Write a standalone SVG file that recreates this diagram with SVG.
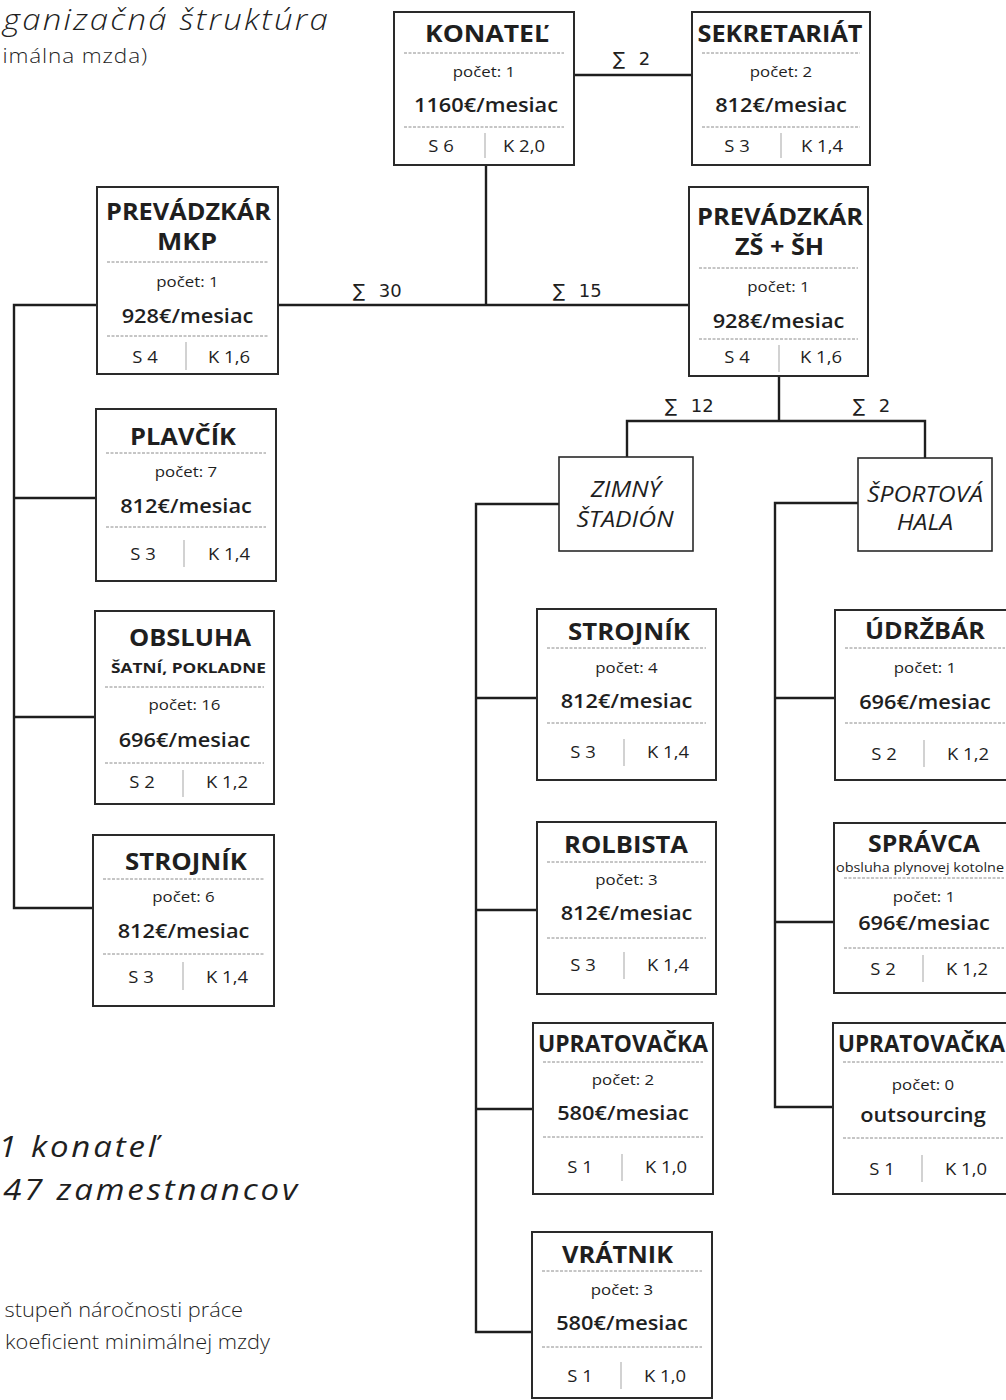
<svg xmlns="http://www.w3.org/2000/svg" width="1006" height="1400" viewBox="0 0 1006 1400">
<style>
.box{fill:#fff;stroke:#2a2a2a;stroke-width:2}
.frame{fill:#fff;stroke:#2a2a2a;stroke-width:1.6}
.sep{stroke:#8c8c8c;stroke-width:1;stroke-dasharray:3 1.5}
.dv{stroke:#b4b4b4;stroke-width:1.2}
.con{fill:none;stroke:#1e1e1e;stroke-width:2.4}
text{font-family:"Open Sans","Noto Sans","DejaVu Sans",sans-serif;fill:#1f1f1f}
.m{text-anchor:middle}
.c{text-anchor:middle;transform:scaleX(1.1);transform-box:fill-box;transform-origin:center}
.r{text-anchor:end;transform:scaleX(1.1);transform-box:fill-box;transform-origin:right}
.ti{font-size:22.5px;font-weight:750}
.ct{font-size:15.3px;font-weight:400}
.sa{font-size:19.8px;font-weight:620}
.sk{font-size:16.8px;font-weight:400}
.sub{font-size:15px;font-weight:750}
.sm{font-size:12.2px;font-weight:400}
.it{font-size:22.5px;font-style:italic;font-weight:400}
.sig{font-size:18px;font-family:"DejaVu Sans","Open Sans",sans-serif;word-spacing:8px}
.big{font-size:30px;font-style:italic;font-weight:400;letter-spacing:2.6px}
.hd{font-size:30px;font-style:italic;font-weight:300;letter-spacing:2px}
.lt{font-size:19.8px;font-weight:300}
.lt2{font-size:20.5px;font-weight:300;letter-spacing:0.8px}
</style>

<g id="connectors">
<path class="con" d="M574 75H692"/>
<path class="con" d="M486 165V305"/>
<path class="con" d="M278 305H689"/>
<path class="con" d="M97 305H14V908H93M14 498H96M14 717H95"/>
<path class="con" d="M779 376V421M627 457V421H925V458"/>
<path class="con" d="M559 504H476V1332H532M476 698H537M476 910H537M476 1109H533"/>
<path class="con" d="M858 503H775V1107H833M775 698H835M775 922H834"/>
<text class="sig" x="613" y="65">∑ 2</text>
<text class="sig" x="353" y="297">∑ 30</text>
<text class="sig" x="553" y="297">∑ 15</text>
<text class="sig" x="665" y="412">∑ 12</text>
<text class="sig" x="853" y="412">∑ 2</text>
</g>

<g id="n-konatel">
<rect class="box" x="394" y="12" width="180" height="153"/>
<text class="m ti" x="487" y="42" textLength="124" lengthAdjust="spacingAndGlyphs">KONATEĽ</text>
<line class="sep" x1="404" y1="53" x2="564" y2="53"/>
<text class="c ct" x="484" y="77">počet: 1</text>
<text class="c sa" x="486" y="112">1160€/mesiac</text>
<line class="sep" x1="404" y1="127" x2="564" y2="127"/>
<line class="dv" x1="485" y1="133" x2="485" y2="158"/>
<text class="c sk" x="441" y="152">S 6</text>
<text class="c sk" x="524" y="152">K 2,0</text>
</g>

<g id="n-sekretariat">
<rect class="box" x="692" y="12" width="178" height="153"/>
<text class="m ti" x="780" y="42" textLength="165" lengthAdjust="spacingAndGlyphs">SEKRETARIÁT</text>
<line class="sep" x1="702" y1="53" x2="860" y2="53"/>
<text class="c ct" x="781" y="77">počet: 2</text>
<text class="c sa" x="781" y="112">812€/mesiac</text>
<line class="sep" x1="702" y1="127" x2="860" y2="127"/>
<line class="dv" x1="781" y1="133" x2="781" y2="158"/>
<text class="c sk" x="737" y="152">S 3</text>
<text class="c sk" x="822" y="152">K 1,4</text>
</g>

<g id="n-prevadzkar-mkp">
<rect class="box" x="97" y="187" width="181" height="187"/>
<text class="m ti" x="188.5" y="220" textLength="165" lengthAdjust="spacingAndGlyphs">PREVÁDZKÁR</text>
<text class="m ti" x="187" y="250" textLength="60" lengthAdjust="spacingAndGlyphs">MKP</text>
<line class="sep" x1="107" y1="262" x2="268" y2="262"/>
<text class="c ct" x="187.5" y="287">počet: 1</text>
<text class="c sa" x="187.5" y="323">928€/mesiac</text>
<line class="sep" x1="107" y1="336" x2="268" y2="336"/>
<line class="dv" x1="186" y1="342" x2="186" y2="370"/>
<text class="c sk" x="145" y="363">S 4</text>
<text class="c sk" x="229" y="363">K 1,6</text>
</g>

<g id="n-prevadzkar-zssh">
<rect class="box" x="689" y="187" width="179" height="189"/>
<text class="m ti" x="780" y="225" textLength="166" lengthAdjust="spacingAndGlyphs">PREVÁDZKÁR</text>
<text class="m ti" x="779.5" y="255" textLength="89" lengthAdjust="spacingAndGlyphs">ZŠ + ŠH</text>
<line class="sep" x1="699" y1="268" x2="858" y2="268"/>
<text class="c ct" x="778.5" y="292">počet: 1</text>
<text class="c sa" x="778.5" y="328">928€/mesiac</text>
<line class="sep" x1="699" y1="339" x2="858" y2="339"/>
<line class="dv" x1="779" y1="345" x2="779" y2="372"/>
<text class="c sk" x="737" y="363">S 4</text>
<text class="c sk" x="821" y="363">K 1,6</text>
</g>

<g id="n-plavcik">
<rect class="box" x="96" y="409" width="180" height="172"/>
<text class="m ti" x="183" y="445" textLength="106" lengthAdjust="spacingAndGlyphs">PLAVČÍK</text>
<line class="sep" x1="106" y1="453" x2="266" y2="453"/>
<text class="c ct" x="186" y="477">počet: 7</text>
<text class="c sa" x="186" y="513">812€/mesiac</text>
<line class="sep" x1="106" y1="527" x2="266" y2="527"/>
<line class="dv" x1="184" y1="540" x2="184" y2="567"/>
<text class="c sk" x="143" y="560">S 3</text>
<text class="c sk" x="229" y="560">K 1,4</text>
</g>

<g id="n-obsluha">
<rect class="box" x="95" y="611" width="179" height="193"/>
<text class="m ti" x="190" y="646" textLength="122" lengthAdjust="spacingAndGlyphs">OBSLUHA</text>
<text class="m sub" x="188.5" y="673" textLength="155" lengthAdjust="spacingAndGlyphs">ŠATNÍ, POKLADNE</text>
<line class="sep" x1="105" y1="687" x2="264" y2="687"/>
<text class="c ct" x="184.5" y="710">počet: 16</text>
<text class="c sa" x="184.5" y="747">696€/mesiac</text>
<line class="sep" x1="105" y1="763" x2="264" y2="763"/>
<line class="dv" x1="183" y1="770" x2="183" y2="797"/>
<text class="c sk" x="142" y="788">S 2</text>
<text class="c sk" x="227" y="788">K 1,2</text>
</g>

<g id="n-strojnik-mkp">
<rect class="box" x="93" y="835" width="181" height="171"/>
<text class="m ti" x="186" y="870" textLength="122" lengthAdjust="spacingAndGlyphs">STROJNÍK</text>
<line class="sep" x1="103" y1="879" x2="264" y2="879"/>
<text class="c ct" x="183.5" y="902">počet: 6</text>
<text class="c sa" x="183.5" y="938">812€/mesiac</text>
<line class="sep" x1="103" y1="954" x2="264" y2="954"/>
<line class="dv" x1="183" y1="962" x2="183" y2="990"/>
<text class="c sk" x="141" y="983">S 3</text>
<text class="c sk" x="227" y="983">K 1,4</text>
</g>

<g id="n-zimny-stadion">
<rect class="frame" x="559" y="457" width="134" height="94"/>
<text class="c it" x="626" y="497">ZIMNÝ</text>
<text class="c it" x="625" y="527">ŠTADIÓN</text>
</g>

<g id="n-sportova-hala">
<rect class="frame" x="858" y="458" width="134" height="93"/>
<text class="c it" x="925" y="502">ŠPORTOVÁ</text>
<text class="c it" x="925" y="530">HALA</text>
</g>

<g id="n-strojnik-zs">
<rect class="box" x="537" y="609" width="179" height="171"/>
<text class="m ti" x="629" y="640" textLength="122" lengthAdjust="spacingAndGlyphs">STROJNÍK</text>
<line class="sep" x1="547" y1="648" x2="706" y2="648"/>
<text class="c ct" x="626.5" y="673">počet: 4</text>
<text class="c sa" x="626.5" y="708">812€/mesiac</text>
<line class="sep" x1="547" y1="723" x2="706" y2="723"/>
<line class="dv" x1="624" y1="739" x2="624" y2="766"/>
<text class="c sk" x="583" y="758">S 3</text>
<text class="c sk" x="668" y="758">K 1,4</text>
</g>

<g id="n-rolbista">
<rect class="box" x="537" y="822" width="179" height="172"/>
<text class="m ti" x="626" y="853" textLength="124" lengthAdjust="spacingAndGlyphs">ROLBISTA</text>
<line class="sep" x1="547" y1="862" x2="706" y2="862"/>
<text class="c ct" x="626.5" y="885">počet: 3</text>
<text class="c sa" x="626.5" y="920">812€/mesiac</text>
<line class="sep" x1="547" y1="938" x2="706" y2="938"/>
<line class="dv" x1="624" y1="952" x2="624" y2="979"/>
<text class="c sk" x="583" y="971">S 3</text>
<text class="c sk" x="668" y="971">K 1,4</text>
</g>

<g id="n-upratovacka-zs">
<rect class="box" x="533" y="1023" width="180" height="171"/>
<text class="m ti" x="623" y="1052" textLength="170" lengthAdjust="spacingAndGlyphs">UPRATOVAČKA</text>
<line class="sep" x1="543" y1="1062" x2="703" y2="1062"/>
<text class="c ct" x="623" y="1085">počet: 2</text>
<text class="c sa" x="623" y="1120">580€/mesiac</text>
<line class="sep" x1="543" y1="1137" x2="703" y2="1137"/>
<line class="dv" x1="622" y1="1154" x2="622" y2="1181"/>
<text class="c sk" x="580" y="1173">S 1</text>
<text class="c sk" x="666" y="1173">K 1,0</text>
</g>

<g id="n-vratnik">
<rect class="box" x="532" y="1232" width="180" height="166"/>
<text class="m ti" x="617.5" y="1263" textLength="111" lengthAdjust="spacingAndGlyphs">VRÁTNIK</text>
<line class="sep" x1="542" y1="1271" x2="702" y2="1271"/>
<text class="c ct" x="622" y="1295">počet: 3</text>
<text class="c sa" x="622" y="1330">580€/mesiac</text>
<line class="sep" x1="542" y1="1347" x2="702" y2="1347"/>
<line class="dv" x1="621" y1="1362" x2="621" y2="1389"/>
<text class="c sk" x="580" y="1382">S 1</text>
<text class="c sk" x="665" y="1382">K 1,0</text>
</g>

<g id="n-udrzbar">
<rect class="box" x="835" y="610" width="180" height="170"/>
<text class="m ti" x="925" y="639" textLength="120" lengthAdjust="spacingAndGlyphs">ÚDRŽBÁR</text>
<line class="sep" x1="845" y1="648" x2="1005" y2="648"/>
<text class="c ct" x="925" y="673">počet: 1</text>
<text class="c sa" x="925" y="709">696€/mesiac</text>
<line class="sep" x1="845" y1="723" x2="1005" y2="723"/>
<line class="dv" x1="924" y1="740" x2="924" y2="767"/>
<text class="c sk" x="884" y="760">S 2</text>
<text class="c sk" x="968" y="760">K 1,2</text>
</g>

<g id="n-spravca">
<rect class="box" x="834" y="823" width="180" height="170"/>
<text class="m ti" x="924" y="852" textLength="112" lengthAdjust="spacingAndGlyphs">SPRÁVCA</text>
<text class="m sm" x="920" y="872" textLength="168" lengthAdjust="spacingAndGlyphs">obsluha plynovej kotolne</text>
<line class="sep" x1="844" y1="878" x2="1004" y2="878"/>
<text class="c ct" x="924" y="902">počet: 1</text>
<text class="c sa" x="924" y="930">696€/mesiac</text>
<line class="sep" x1="844" y1="948" x2="1004" y2="948"/>
<line class="dv" x1="923" y1="955" x2="923" y2="982"/>
<text class="c sk" x="883" y="975">S 2</text>
<text class="c sk" x="967" y="975">K 1,2</text>
</g>

<g id="n-upratovacka-sh">
<rect class="box" x="833" y="1023" width="180" height="171"/>
<text class="m ti" x="921.5" y="1052" textLength="167" lengthAdjust="spacingAndGlyphs">UPRATOVAČKA</text>
<line class="sep" x1="843" y1="1062" x2="1003" y2="1062"/>
<text class="c ct" x="923" y="1090">počet: 0</text>
<text class="c sa" x="923" y="1122">outsourcing</text>
<line class="sep" x1="843" y1="1138" x2="1003" y2="1138"/>
<line class="dv" x1="922" y1="1155" x2="922" y2="1182"/>
<text class="c sk" x="882" y="1175">S 1</text>
<text class="c sk" x="966" y="1175">K 1,0</text>
</g>

<g id="legend">
<text class="r hd" x="330" y="30">ganizačná štruktúra</text>
<text class="r lt2" x="148" y="63">imálna mzda)</text>
<text class="r big" x="160" y="1157">1 konateľ</text>
<text class="r big" x="300" y="1200">47 zamestnancov</text>
<text class="r lt" x="243" y="1317">stupeň náročnosti práce</text>
<text class="r lt" x="270" y="1349">koeficient minimálnej mzdy</text>
</g>
</svg>
